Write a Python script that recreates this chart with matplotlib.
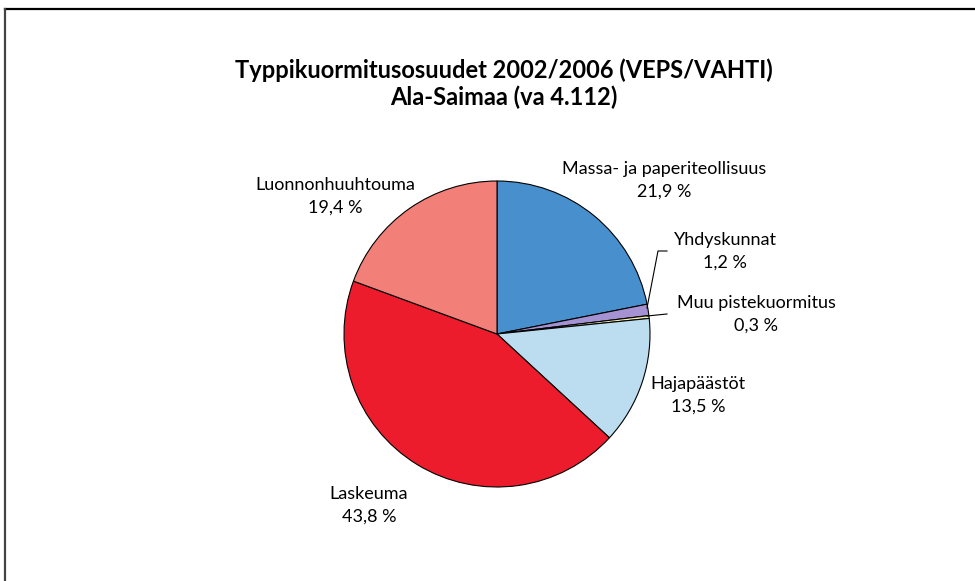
import matplotlib
matplotlib.use("Agg")
import matplotlib.pyplot as plt
from matplotlib.lines import Line2D

categories = ["Massa- ja paperiteollisuus", "Yhdyskunnat", "Muu pistekuormitus",
              "Hajapäästöt", "Laskeuma", "Luonnonhuuhtouma"]
values = [21.9, 1.2, 0.3, 13.5, 43.8, 19.4]
value_labels = ["21,9 %", "1,2 %", "0,3 %", "13,5 %", "43,8 %", "19,4 %"]
colors = ["#4790cd", "#a492d2", "#f5f0b4", "#bcdcf0", "#ed1c2c", "#f28079"]
title = "Typpikuormitusosuudet 2002/2006 (VEPS/VAHTI)\nAla-Saimaa (va 4.112)"

plt.rcParams['font.family'] = ['Lato', 'DejaVu Sans']

W, H = 975, 581
fig = plt.figure(figsize=(W / 100, H / 100), dpi=100)
fig.patch.set_facecolor("white")

# pie axes
cx, cy, r = 497, 334, 153
ax = fig.add_axes([(cx - r) / W, (H - cy - r) / H, 2 * r / W, 2 * r / H])
ax.pie(values, colors=colors, startangle=90, counterclock=False,
       wedgeprops=dict(edgecolor="black", linewidth=0.8), radius=1.0)
ax.set_xlim(-1, 1)
ax.set_ylim(-1, 1)
ax.set_aspect("equal")
ax.axis("off")

def px(x, y):
    return x / W, 1 - y / H

# border
fig.add_artist(Line2D([px(5, 0)[0], 1.0], [px(0, 9)[1]] * 2, transform=fig.transFigure, color="black", lw=1.6))
fig.add_artist(Line2D([px(5, 0)[0]] * 2, [px(0, 9)[1], 0.0], transform=fig.transFigure, color="#444444", lw=1.6))

# title
fig.text(*px(504, 84), title, ha="center", va="center", fontsize=17,
         fontweight="bold", linespacing=1.2)

# labels (name, value) positions
label_pos = [(664, 180), (725, 251), (756, 314), (698, 395), (369, 505), (335, 196)]
for name, vl, (x, y) in zip(categories, value_labels, label_pos):
    fig.text(*px(x, y), name + "\n" + vl, ha="center", va="center", fontsize=13,
             linespacing=1.5)

# leader lines
fig.add_artist(Line2D([px(647, 0)[0], px(658, 0)[0], px(667, 0)[0]],
                      [px(0, 308)[1], px(0, 251)[1], px(0, 251)[1]],
                      transform=fig.transFigure, color="black", lw=0.8))
fig.add_artist(Line2D([px(647, 0)[0], px(667, 0)[0]],
                      [px(0, 316)[1], px(0, 314)[1]],
                      transform=fig.transFigure, color="black", lw=0.8))

fig.savefig("out.png", dpi=100, facecolor="white")
